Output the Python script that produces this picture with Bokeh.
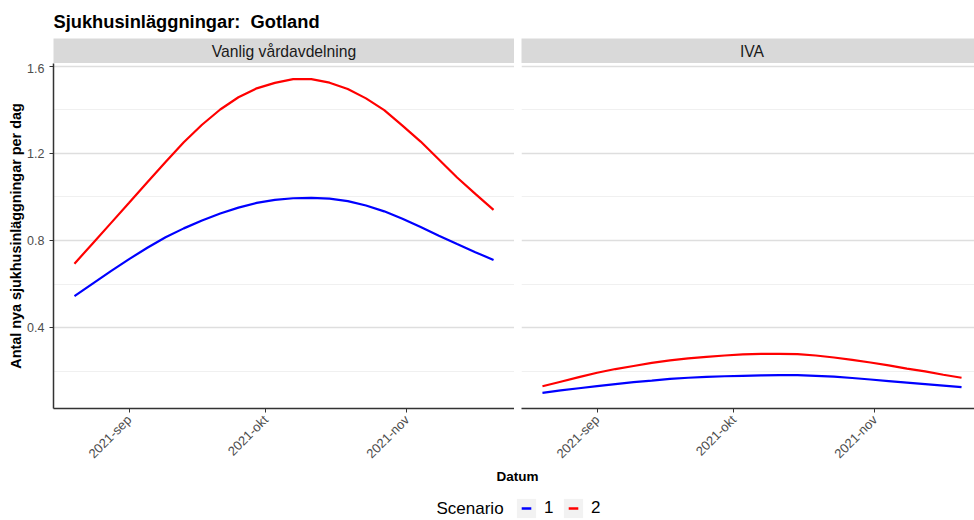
import math
import pandas as pd
from bokeh.plotting import figure
from bokeh.layouts import column, row
from bokeh.models import Range1d, FixedTicker, Label, Legend, LegendItem, ColumnDataSource
from bokeh.embed import file_html
from bokeh.resources import INLINE

# ---------------- data ----------------
title_text = "Sjukhusinläggningar:  Gotland"
panel_names = ["Vanlig vårdavdelning", "IVA"]
scenario_labels = ["1", "2"]
scenario_colors = ["blue", "red"]
legend_title = "Scenario"
x_title = "Datum"
y_title = "Antal nya sjukhusinläggningar per dag"

dates = ["2021-08-20", "2021-08-24", "2021-08-28", "2021-09-01", "2021-09-05",
         "2021-09-09", "2021-09-13", "2021-09-17", "2021-09-21", "2021-09-25",
         "2021-09-29", "2021-10-03", "2021-10-07", "2021-10-11", "2021-10-15",
         "2021-10-19", "2021-10-23", "2021-10-27", "2021-10-31", "2021-11-04",
         "2021-11-08", "2021-11-12", "2021-11-16", "2021-11-20"]
vanlig_s1 = [0.545, 0.603, 0.660, 0.715, 0.767, 0.815, 0.856, 0.892, 0.924,
             0.951, 0.973, 0.987, 0.994, 0.996, 0.992, 0.981, 0.961, 0.934,
             0.900, 0.862, 0.822, 0.784, 0.747, 0.711]
vanlig_s2 = [0.694, 0.787, 0.880, 0.973, 1.067, 1.160, 1.251, 1.331, 1.401,
             1.457, 1.498, 1.523, 1.540, 1.540, 1.524, 1.495, 1.452, 1.398,
             1.327, 1.254, 1.172, 1.089, 1.014, 0.941]
iva_s1 = [0.102, 0.113, 0.123, 0.133, 0.142, 0.151, 0.158, 0.166, 0.171,
          0.175, 0.178, 0.180, 0.182, 0.183, 0.183, 0.180, 0.176, 0.170,
          0.163, 0.156, 0.149, 0.142, 0.135, 0.128]
iva_s2 = [0.132, 0.153, 0.174, 0.194, 0.211, 0.225, 0.239, 0.251, 0.260,
          0.267, 0.273, 0.278, 0.281, 0.281, 0.279, 0.273, 0.264, 0.253,
          0.241, 0.228, 0.213, 0.200, 0.185, 0.171]

tick_dates = ["2021-09-01", "2021-10-01", "2021-11-01"]
tick_labels = ["2021-sep", "2021-okt", "2021-nov"]
y_ticks = [0.4, 0.8, 1.2, 1.6]
y_minor = [0.2, 0.6, 1.0, 1.4]

# ---------------- layout constants ----------------
FONT = "Liberation Sans"
PAGE_W, PAGE_H = 974, 520
LEFT_FW = 461
GAP = 7
LEFT_B = 53
RIGHT_FW = PAGE_W - LEFT_B - LEFT_FW - GAP
FRAME_H = 345
STRIP_H = 25
TITLE_H = 38
BOTTOM_B = 61
FOOT_H = PAGE_H - TITLE_H - STRIP_H - FRAME_H - BOTTOM_B

dt = pd.to_datetime(dates)
x0, x1 = dt.min(), dt.max()
pad = (x1 - x0) * 0.05
xs = (x0 - pad).to_pydatetime()
xe = (x1 + pad).to_pydatetime()
xe_right = xs + (xe - xs) * (RIGHT_FW / LEFT_FW)
mid_ms = (pd.Timestamp(xs) + (pd.Timestamp(xe) - pd.Timestamp(xs)) / 2).timestamp() * 1000

allv = vanlig_s1 + vanlig_s2 + iva_s1 + iva_s2
ymin, ymax = min(allv), max(allv)
ypad = (ymax - ymin) * 0.05
yr = Range1d(ymin - ypad, ymax + ypad)

tick_ms = [int(pd.Timestamp(d).timestamp() * 1000) for d in tick_dates]

x_left = Range1d(xs, xe)
x_right = Range1d(xs, xe_right)

sources = {}


def make_panel(key, xr, fw, left_border, with_y, series):
    p = figure(x_axis_type="datetime", x_range=xr, y_range=yr,
               frame_width=fw, frame_height=FRAME_H,
               min_border_left=left_border, min_border_right=0,
               min_border_top=0, min_border_bottom=BOTTOM_B,
               y_axis_location="left" if with_y else None,
               output_backend="svg", toolbar_location=None)
    p.outline_line_color = None
    p.background_fill_color = "white"
    p.border_fill_color = "white"
    p.xgrid.grid_line_color = None
    p.ygrid.ticker = FixedTicker(ticks=y_ticks, minor_ticks=y_minor)
    p.ygrid.grid_line_color = "#dedede"
    p.ygrid.grid_line_width = 1.3
    p.ygrid.minor_grid_line_color = "#f0f0f0"
    p.ygrid.minor_grid_line_width = 1

    ax = p.xaxis[0]
    ax.ticker = FixedTicker(ticks=tick_ms)
    ax.major_label_overrides = dict(zip(tick_ms, tick_labels))
    ax.major_label_orientation = math.pi / 4
    ax.major_label_text_font = FONT
    ax.major_label_text_font_size = "13px"
    ax.major_label_text_color = "#4d4d4d"
    ax.major_label_standoff = 5
    ax.axis_line_color = "#333333"
    ax.axis_line_width = 1.5
    ax.major_tick_line_color = "#333333"
    ax.major_tick_out = 4
    ax.major_tick_in = 0
    ax.minor_tick_line_color = None

    if with_y:
        ay = p.yaxis[0]
        ay.ticker = FixedTicker(ticks=y_ticks, minor_ticks=y_minor)
        ay.major_label_text_font = FONT
        ay.major_label_text_font_size = "12.5px"
        ay.major_label_text_color = "#4d4d4d"
        ay.major_label_standoff = 5
        ay.axis_line_color = "#333333"
        ay.axis_line_width = 1.5
        ay.major_tick_line_color = "#333333"
        ay.major_tick_out = 4
        ay.major_tick_in = 0
        ay.minor_tick_line_color = None
        ay.axis_label = y_title
        ay.axis_label_text_font = FONT
        ay.axis_label_text_font_size = "14.4px"
        ay.axis_label_text_font_style = "bold"
        ay.axis_label_text_color = "black"
        ay.axis_label_standoff = 0

    for i, (vals, col) in enumerate(zip(series, scenario_colors)):
        src = ColumnDataSource(dict(x=dt, y=vals))
        sources[(key, i)] = src
        p.line(x="x", y="y", source=src, line_color=col, line_width=2.2)
    return p


def make_strip(xr, fw, left_border, text, title=None):
    kw = dict(title=title) if title else {}
    s = figure(x_range=xr, y_range=Range1d(0, 1),
               frame_width=fw, frame_height=STRIP_H,
               min_border_left=left_border, min_border_right=0,
               min_border_top=TITLE_H, min_border_bottom=0,
               x_axis_location=None, y_axis_location=None,
               output_backend="svg", toolbar_location=None, **kw)
    s.outline_line_color = None
    s.background_fill_color = "#d9d9d9"
    s.border_fill_color = "white"
    s.xgrid.visible = False
    s.ygrid.visible = False
    s.add_layout(Label(x=mid_ms, y=0.5, text=text, text_align="center",
                       text_baseline="middle", text_font=FONT,
                       text_font_size="15.7px", text_color="#1a1a1a"))
    return s


# SVG collapses double spaces; keep the visual gap with a no-break space
shown_title = title_text.replace("  ", "\u00a0 ")
s1 = make_strip(x_left, LEFT_FW, LEFT_B, panel_names[0], title=shown_title)
s1.title.text_font = FONT
s1.title.text_font_size = "18.3px"
s1.title.text_font_style = "bold"
s1.title.text_color = "black"
s1.title.align = "left"
s1.title.standoff = 14
s2 = make_strip(x_right, RIGHT_FW, GAP, panel_names[1])

p1 = make_panel("vanlig", x_left, LEFT_FW, LEFT_B, True, [vanlig_s1, vanlig_s2])
p2 = make_panel("iva", x_right, RIGHT_FW, GAP, False, [iva_s1, iva_s2])

# footer: x-axis title and legend
foot = figure(width=PAGE_W, height=FOOT_H, x_range=Range1d(0, PAGE_W),
              y_range=Range1d(0, FOOT_H),
              min_border_left=0, min_border_right=0, min_border_top=0, min_border_bottom=0,
              x_axis_location=None, y_axis_location=None,
              output_backend="svg", toolbar_location=None)
foot.outline_line_color = None
foot.xgrid.visible = False
foot.ygrid.visible = False
foot.add_layout(Label(x=517, y=FOOT_H - 7, text=x_title, text_align="center",
                      text_baseline="middle", text_font=FONT,
                      text_font_size="13.5px", text_font_style="bold",
                      text_color="black"))
foot.add_layout(Label(x=436, y=12, text=legend_title, text_align="left",
                      text_baseline="middle", text_font=FONT,
                      text_font_size="17px", text_color="black"))

# legend keys: renderers on the same data (they fall outside this footer's view)
items = []
for i, (lab, col) in enumerate(zip(scenario_labels, scenario_colors)):
    src = sources[("vanlig", i)]
    box = foot.rect(x="x", y="y", width=0, height=0, source=src,
                    fill_color="#f2f2f2", line_color=None)
    mark = foot.scatter(x="x", y="y", source=src, marker="dash", size=0,
                        line_color=col, line_width=2.5, fill_color=col)
    items.append(LegendItem(label=lab, renderers=[box, mark]))

legend = Legend(items=items, orientation="horizontal",
                label_text_font=FONT, label_text_font_size="17px",
                label_text_color="black", label_standoff=6,
                label_width=10,
                glyph_width=24, glyph_height=24, spacing=7, padding=0, margin=0,
                border_line_color=None, background_fill_alpha=0,
                location=(514, 0))
foot.add_layout(legend)

layout = column(row(s1, s2), row(p1, p2), foot)

with open("out.html", "w") as f:
    f.write(file_html(layout, INLINE))
